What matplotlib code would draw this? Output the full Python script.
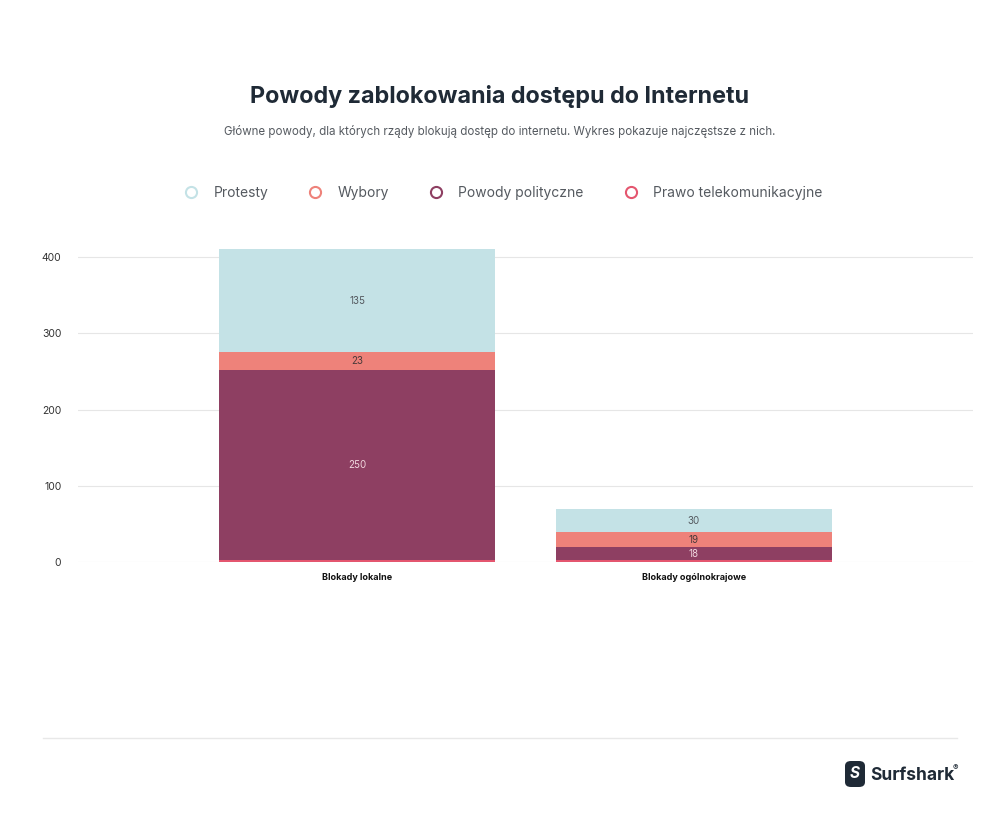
import matplotlib
matplotlib.use("Agg")
import matplotlib.pyplot as plt
from matplotlib.patches import FancyBboxPatch
from matplotlib.lines import Line2D

categories = ["Blokady lokalne", "Blokady ogólnokrajowe"]
series_names = ["Prawo telekomunikacyjne", "Powody polityczne", "Wybory", "Protesty"]
telekom = [2, 2]
polityczne = [250, 18]
wybory = [23, 19]
protesty = [135, 30]
yticks = [0, 100, 200, 300, 400]

colors = {
    "Protesty": "#c4e2e6",
    "Wybory": "#ee827a",
    "Powody polityczne": "#8e3f62",
    "Prawo telekomunikacyjne": "#e4566f",
}
label_colors = {
    "Protesty": "#555a60",
    "Wybory": "#4a3a3a",
    "Powody polityczne": "#f0d5dd",
    "Prawo telekomunikacyjne": "#ffffff",
}

plt.rcParams['font.family'] = ['Inter', 'DejaVu Sans']

W, H = 1000, 818
fig = plt.figure(figsize=(W / 100, H / 100), dpi=100)
fig.patch.set_facecolor("white")

ax_left, ax_right = 78, 973
ax_bottom = 562
ymax = 412
px_per_unit = 305 / 400
ax_top = ax_bottom - ymax * px_per_unit
ax = fig.add_axes([ax_left / W, 1 - ax_bottom / H, (ax_right - ax_left) / W, (ax_bottom - ax_top) / H])

x = list(range(len(categories)))
width = 0.82
bottom = [0, 0]
data = {
    "Prawo telekomunikacyjne": telekom,
    "Powody polityczne": polityczne,
    "Wybory": wybory,
    "Protesty": protesty,
}
for name in series_names:
    vals = data[name]
    ax.bar(x, vals, width, bottom=bottom, color=colors[name], zorder=3, linewidth=0)
    for i, v in enumerate(vals):
        if v >= 10:
            ax.text(x[i], bottom[i] + v / 2, str(v), ha="center", va="center",
                    fontsize=7, color=label_colors[name], zorder=4)
    bottom = [b + v for b, v in zip(bottom, vals)]

ax.set_xlim(-0.828, 1.828)
ax.set_ylim(0, ymax)
ax.set_yticks(yticks)
ax.set_yticklabels([str(t) for t in yticks], fontsize=7.5, color="#333333")
ax.set_xticks(x)
ax.set_xticklabels(categories, fontsize=6.5, fontweight="bold", color="#111111")
ax.tick_params(axis="both", length=0)
ax.tick_params(axis="y", pad=12)
ax.tick_params(axis="x", pad=8)
ax.grid(axis="y", color="#e6e6e6", linewidth=0.8, zorder=0)
for s in ax.spines.values():
    s.set_visible(False)

fig.text(0.5, 1 - 97 / H, "Powody zablokowania dostępu do Internetu", ha="center", va="center",
         fontsize=16.8, fontweight="bold", color="#1f2a36")
fig.text(0.5, 1 - 131 / H,
         "Główne powody, dla których rządy blokują dostęp do internetu. Wykres pokazuje najczęstsze z nich.",
         ha="center", va="center", fontsize=8.3, color="#555a60")

legend_order = ["Protesty", "Wybory", "Powody polityczne", "Prawo telekomunikacyjne"]
handles = [Line2D([0], [0], marker="o", linestyle="none", markersize=8, markerfacecolor="white",
                  markeredgecolor=colors[n], markeredgewidth=1.5) for n in legend_order]
fig.legend(handles, legend_order, loc="center", bbox_to_anchor=(0.5, 1 - 193 / H), ncol=4,
           frameon=False, fontsize=10, handletextpad=0.6, columnspacing=2.4,
           labelcolor="#555a60")

fig.add_artist(Line2D([43 / W, 957 / W], [1 - 738 / H, 1 - 738 / H], color="#e8e8e8", linewidth=1))

icon = FancyBboxPatch((845 / W, 1 - 787 / H), 20 / W, 26 / H,
                      boxstyle="round,pad=0,rounding_size=0.006", transform=fig.transFigure,
                      facecolor="#1f2a36", edgecolor="none")
fig.add_artist(icon)
fig.text(855 / W, 1 - 774 / H, "S", ha="center", va="center", fontsize=11, color="white",
         fontweight="bold", style="italic")
fig.text(870 / W, 1 - 775 / H, "Surfshark", ha="left", va="center", fontsize=12.5,
         fontweight="bold", color="#1f2a36")
fig.text(953 / W, 1 - 768 / H, "®", ha="left", va="center", fontsize=6, color="#1f2a36")

fig.savefig("out.png", dpi=100, facecolor="white")
